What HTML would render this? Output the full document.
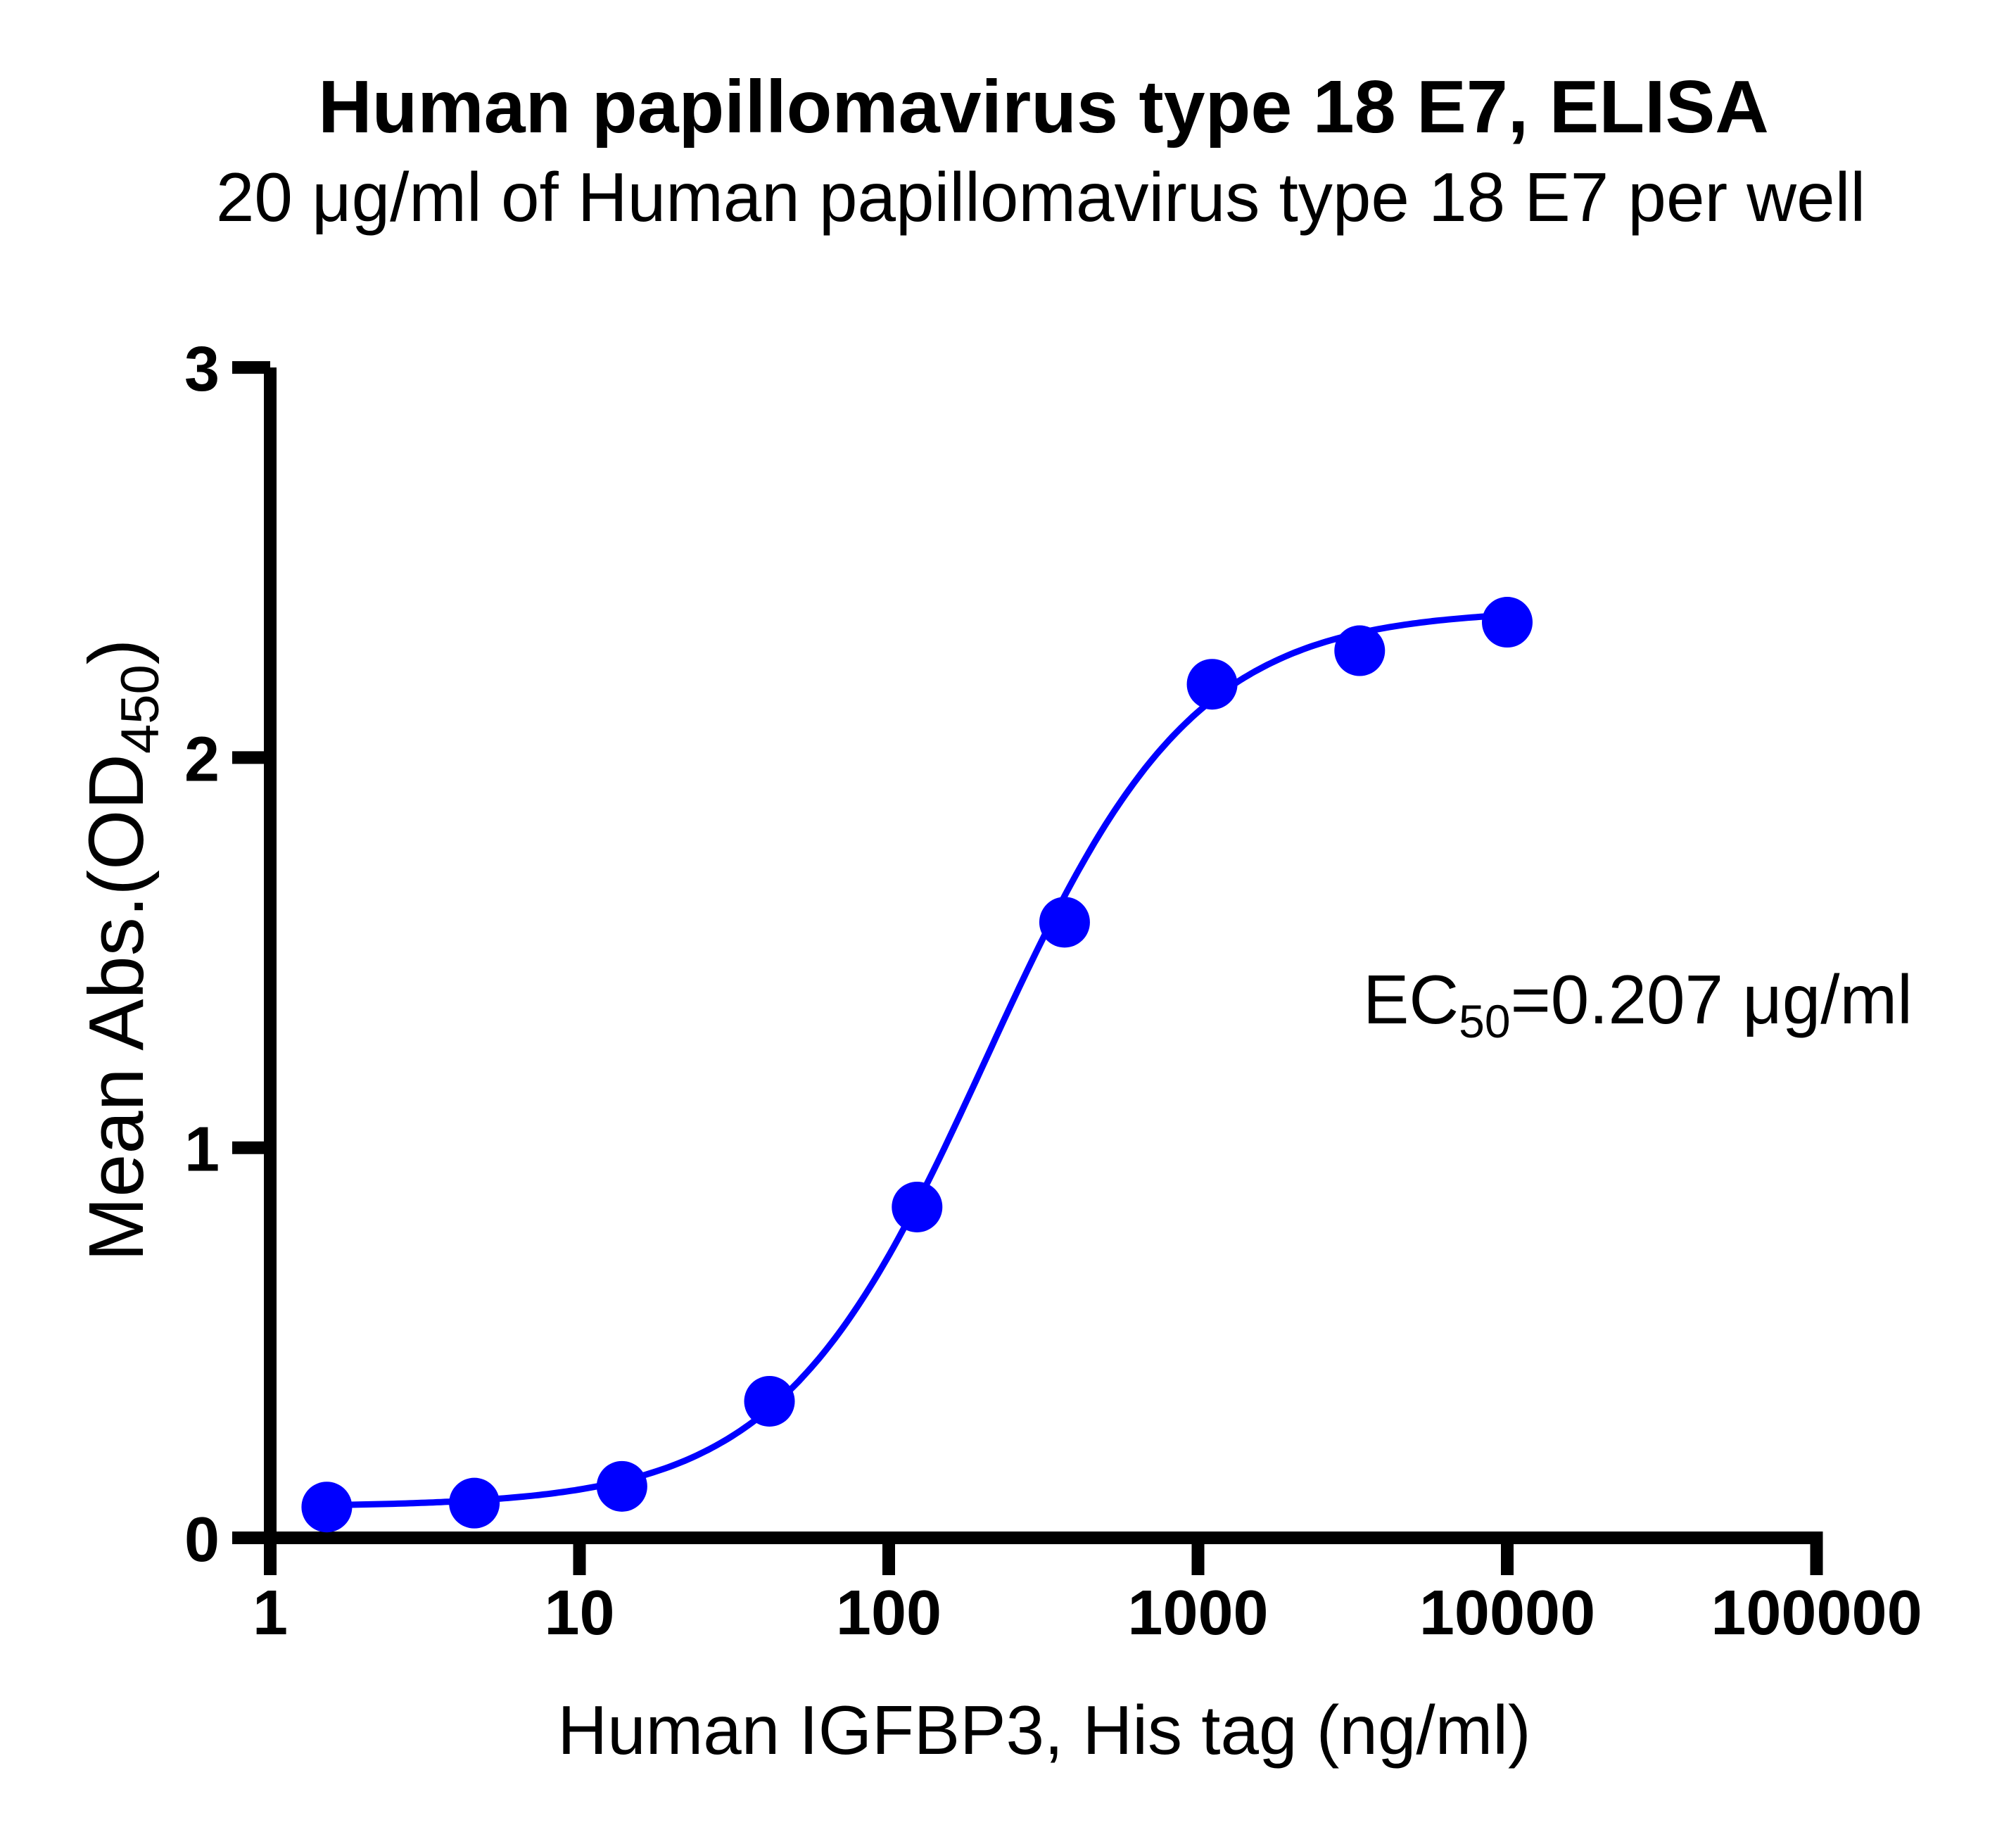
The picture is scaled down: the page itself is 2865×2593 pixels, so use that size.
<!DOCTYPE html>
<html><head><meta charset="utf-8"><style>
html,body{margin:0;padding:0;background:#fff;}
svg{display:block;font-family:"Liberation Sans",Arial,sans-serif;}
</style></head><body>
<svg id="chart" width="2865" height="2593" viewBox="0 0 2865 2593" xmlns="http://www.w3.org/2000/svg">
<text x="1483" y="188" text-anchor="middle" font-size="106" font-weight="bold">Human papillomavirus type 18 E7, ELISA</text>
<text x="1479" y="314" text-anchor="middle" font-size="98">20 μg/ml of Human papillomavirus type 18 E7 per well</text>
<g id="axes"></g>
<g id="curve"></g>
<g id="points"></g>
<text x="1484" y="2492" text-anchor="middle" font-size="98">Human IGFBP3, His tag (ng/ml)</text>
<text transform="translate(203,1350) rotate(-90)" text-anchor="middle" font-size="110">Mean Abs.(OD<tspan font-size="76" dy="22">450</tspan><tspan dy="-22">)</tspan></text>
<text x="1937" y="1454" font-size="98">EC<tspan font-size="66" dy="20">50</tspan><tspan dy="-20">=0.207 μg/ml</tspan></text>
</svg>
<script>
const concentrations = [1.524, 4.572, 13.72, 41.15, 123.5, 370.4, 1111, 3333, 10000];
const absorbance = [0.079, 0.089, 0.132, 0.350, 0.848, 1.578, 2.188, 2.274, 2.347];
const xTicks = [1, 10, 100, 1000, 10000, 100000];
const xTickLabels = ["1", "10", "100", "1000", "10000", "100000"];
const yTicks = [0, 1, 2, 3];
const yTickLabels = ["0", "1", "2", "3"];
const fitParams = [0.08, 2.38, 207, 1.3]; // bottom, top, EC50 (ng/ml), hill

const NS = "http://www.w3.org/2000/svg";
const X0 = 384, DEC = 439.5, Y0 = 2185, YU = 554.3;
function xs(v){ return X0 + Math.log10(v) * DEC; }
function ys(v){ return Y0 - v * YU; }
function mk(tag, attrs, parent){ const e = document.createElementNS(NS, tag); for (const k in attrs) e.setAttribute(k, attrs[k]); parent.appendChild(e); return e; }

const axes = document.getElementById('axes');
let l = mk('line', {x1: X0, y1: ys(3), x2: X0, y2: Y0 + 9, stroke: '#000', 'stroke-width': 18}, axes);


l = mk('line', {x1: X0 - 9, y1: Y0, x2: xs(100000) + 9, y2: Y0, stroke: '#000', 'stroke-width': 18}, axes);


yTicks.forEach((t, i) => {
  const tk = mk('line', {x1: X0 - 54, y1: ys(t), x2: X0, y2: ys(t), stroke: '#000', 'stroke-width': 18}, axes);
  
  
  const tx = mk('text', {x: 312, y: ys(t) + 33, 'text-anchor': 'end', 'font-size': 90, 'font-weight': 'bold'}, axes);
  tx.textContent = yTickLabels[i];
  
  
});
xTicks.forEach((t, i) => {
  const tk = mk('line', {x1: xs(t), y1: Y0, x2: xs(t), y2: Y0 + 53, stroke: '#000', 'stroke-width': 18}, axes);
  
  
  const tx = mk('text', {x: xs(t), y: 2322, 'text-anchor': 'middle', 'font-size': 90, 'font-weight': 'bold'}, axes);
  tx.textContent = xTickLabels[i];
  
  
});

function fit(x){ const [b, t, ec, h] = fitParams; return b + (t - b) / (1 + Math.pow(ec / x, h)); }
const lo = Math.log10(concentrations[0]), hi = Math.log10(concentrations[concentrations.length - 1]);
let d = '';
for (let i = 0; i <= 300; i++) {
  const lx = lo + (hi - lo) * i / 300, x = Math.pow(10, lx);
  d += (i ? 'L' : 'M') + xs(x).toFixed(1) + ' ' + ys(fit(x)).toFixed(1);
}
const path = mk('path', {d: d, fill: 'none', stroke: '#0000ff', 'stroke-width': 9}, document.getElementById('curve'));



const pts = document.getElementById('points');
concentrations.forEach((c, i) => {
  const p = mk('circle', {cx: xs(c), cy: ys(absorbance[i]), r: 36, fill: '#0000ff'}, pts);
  
  
});
</script>
</body></html>
